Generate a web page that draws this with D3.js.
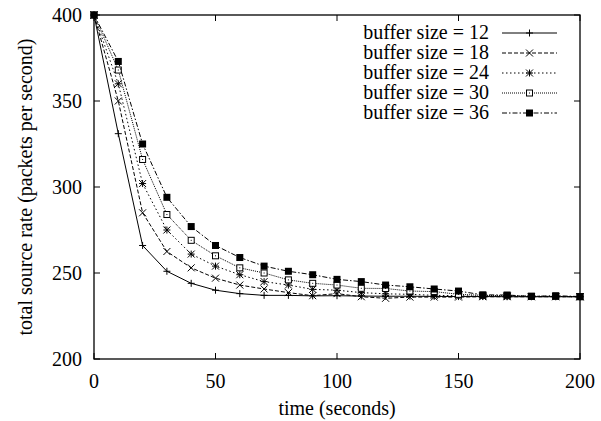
<!DOCTYPE html>
<html><head><meta charset="utf-8">
<script src="https://cdn.jsdelivr.net/npm/d3@7"></script>
<style>body{margin:0;background:#fff}svg{display:block}text{font-family:"Liberation Serif","Times New Roman",serif;fill:#000}</style>
</head><body><div id="chart"></div>
<script>
const times = [0,10,20,30,40,50,60,70,80,90,100,110,120,130,140,150,160,170,180,190,200];
const seriesNames = ["buffer size = 12","buffer size = 18","buffer size = 24","buffer size = 30","buffer size = 36"];
const buf12 = [400,331,266,251,244,240,238,237,237,236.7,236.8,236.6,236.5,236.5,236.4,236.3,236.3,236.2,236.2,236.2,236.2];
const buf18 = [400,350,285,262.5,253,247,243,240.7,238.6,236.8,238,236.2,235.3,236,236,236,236.2,236.2,236.2,236.2,236.2];
const buf24 = [400,360,302,275,261,254,249,245,243,240.5,240,238.6,237.9,237.6,237,236.8,236.5,236.5,236.3,236.3,236.2];
const buf30 = [400,368,316,284,269,260,253,250,246,244,243,241.1,241,239.5,239.2,237.6,237,236.8,236.5,236.4,236.2];
const buf36 = [400,373,325,294,277,266,259,254,251,249,246.3,245,243,242,240.7,239.5,237.3,237.2,236.4,236.8,236.3];
const xTicks = [0,50,100,150,200];
const yTicks = [200,250,300,350,400];
const xTitle = "time (seconds)";
const yTitle = "total source rate (packets per second)";

const W = 601, H = 421;
const m = {left:94, right:21, top:15, bottom:62};
const svg = d3.select("#chart").append("svg").attr("width",W).attr("height",H);
const x = d3.scaleLinear().domain([0,200]).range([m.left, W-m.right]);
const y = d3.scaleLinear().domain([200,400]).range([H-m.bottom, m.top]);

const allSeries = [buf12,buf18,buf24,buf30,buf36];
const dashes = [null,"4,2","1.5,2.5","1,1","5,2,1.5,2"];
const markers = ["plus","cross","star","openSquare","filledSquare"];
const fs = 20;

const tl = 6;
const g = svg.append("g");
xTicks.forEach(t=>{
  g.append("line").attr("x1",x(t)).attr("x2",x(t)).attr("y1",y(200)).attr("y2",y(200)-tl).attr("stroke","#000");
  g.append("line").attr("x1",x(t)).attr("x2",x(t)).attr("y1",y(400)).attr("y2",y(400)+tl).attr("stroke","#000");
  g.append("text").attr("x",x(t)).attr("y",y(200)+29).attr("text-anchor","middle").attr("font-size",fs).text(t);
});
yTicks.forEach(t=>{
  g.append("line").attr("x1",x(0)).attr("x2",x(0)+tl).attr("y1",y(t)).attr("y2",y(t)).attr("stroke","#000");
  g.append("line").attr("x1",x(200)).attr("x2",x(200)-tl).attr("y1",y(t)).attr("y2",y(t)).attr("stroke","#000");
  g.append("text").attr("x",x(0)-12).attr("y",y(t)+7).attr("text-anchor","end").attr("font-size",fs).text(t);
});
svg.append("text").attr("x",(x(0)+x(200))/2).attr("y",H-6).attr("text-anchor","middle").attr("font-size",fs).text(xTitle);
svg.append("text").attr("transform",`translate(32,${(y(200)+y(400))/2}) rotate(-90)`).attr("text-anchor","middle").attr("font-size",fs).text(yTitle);

function drawMarker(sel, type, cx, cy){
  const s = 3.5;
  if(type==="plus"){
    sel.append("path").attr("d",`M${cx-s},${cy}H${cx+s}M${cx},${cy-s}V${cy+s}`).attr("stroke","#000").attr("stroke-width",1);
  } else if(type==="cross"){
    sel.append("path").attr("d",`M${cx-s},${cy-s}L${cx+s},${cy+s}M${cx-s},${cy+s}L${cx+s},${cy-s}`).attr("stroke","#000").attr("stroke-width",1);
  } else if(type==="star"){
    sel.append("path").attr("d",`M${cx-s},${cy-s}L${cx+s},${cy+s}M${cx-s},${cy+s}L${cx+s},${cy-s}M${cx-s},${cy}H${cx+s}M${cx},${cy-s}V${cy+s}`).attr("stroke","#000").attr("stroke-width",1);
  } else if(type==="openSquare"){
    sel.append("rect").attr("x",cx-3).attr("y",cy-3).attr("width",6).attr("height",6).attr("fill","#fff").attr("stroke","#000").attr("stroke-width",1);
    sel.append("rect").attr("x",cx-0.5).attr("y",cy-0.5).attr("width",1).attr("height",1).attr("fill","#000");
  } else {
    sel.append("rect").attr("x",cx-3.5).attr("y",cy-3.5).attr("width",7).attr("height",7).attr("fill","#000");
  }
}

const line = d3.line().x((d,i)=>x(times[i])).y(d=>y(d));
allSeries.forEach((vals,k)=>{
  const gs = svg.append("g");
  gs.append("path").datum(vals).attr("d",line).attr("fill","none").attr("stroke","#000").attr("stroke-width",1)
    .attr("stroke-dasharray",dashes[k]);
  vals.forEach((v,i)=>drawMarker(gs, markers[k], x(times[i]), y(v)));
});

const lg = svg.append("g");
seriesNames.forEach((n,k)=>{
  const ly = 33 + k*20;
  lg.append("text").attr("x",489).attr("y",ly+6).attr("text-anchor","end").attr("font-size",fs).text(n);
  lg.append("line").attr("x1",502).attr("x2",557).attr("y1",ly).attr("y2",ly).attr("stroke","#000").attr("stroke-width",1).attr("stroke-dasharray",dashes[k]);
  drawMarker(lg, markers[k], 529.5, ly);
});

svg.append("rect").attr("x",x(0)).attr("y",y(400)).attr("width",x(200)-x(0)).attr("height",y(200)-y(400)).attr("fill","none").attr("stroke","#000").attr("stroke-width",1.3);
</script></body></html>
